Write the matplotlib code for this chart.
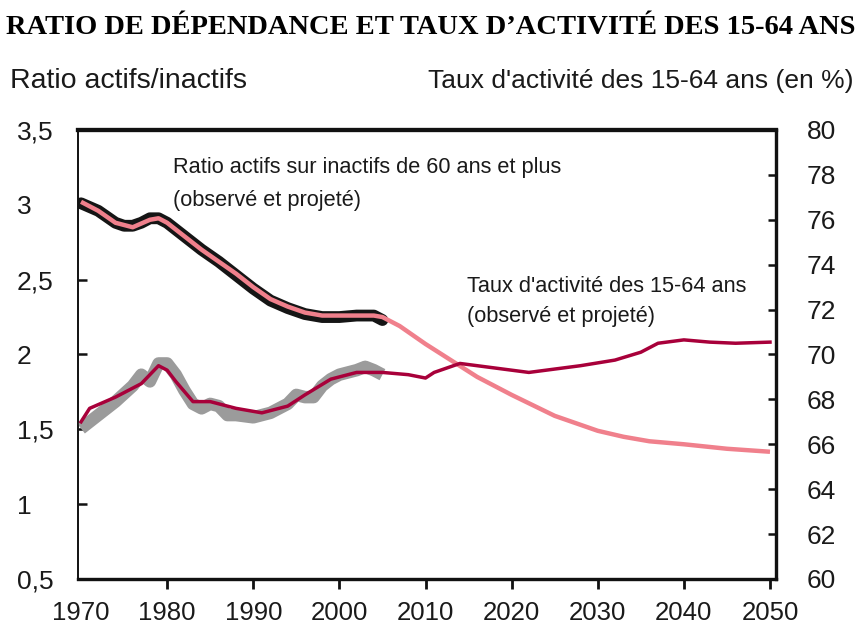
import numpy as np
import matplotlib
matplotlib.use('Agg')
import matplotlib.pyplot as plt

plt.rcParams['font.family'] = ['Liberation Sans', 'DejaVu Sans']

# ratio actifs / inactifs de 60 ans et plus (observe + projete), echelle gauche
ratio_years = [1970, 1972, 1974, 1976, 1978, 1979, 1980, 1982, 1984, 1986, 1988, 1990,
               1992, 1994, 1996, 1998, 2000, 2002, 2004, 2005, 2007, 2010, 2013, 2016,
               2020, 2025, 2030, 2033, 2036, 2040, 2045, 2050]
ratio_vals = [3.02, 2.96, 2.88, 2.85, 2.90, 2.91, 2.88, 2.79, 2.70, 2.62, 2.54, 2.45,
              2.37, 2.32, 2.28, 2.26, 2.26, 2.26, 2.26, 2.25, 2.19, 2.07, 1.96, 1.85,
              1.73, 1.59, 1.49, 1.45, 1.42, 1.40, 1.37, 1.35]

# serie observee brute (bande noire)
ratio_obs_years = [1970, 1972, 1974, 1975, 1976, 1977, 1978, 1979, 1980, 1982, 1984, 1986,
                   1988, 1990, 1992, 1994, 1996, 1998, 2000, 2002, 2004, 2005]
ratio_obs_vals = [3.01, 2.96, 2.88, 2.86, 2.86, 2.88, 2.91, 2.91, 2.88, 2.79, 2.70, 2.62,
                  2.53, 2.44, 2.36, 2.31, 2.27, 2.25, 2.25, 2.26, 2.26, 2.23]

# taux d'activite des 15-64 ans (observe lisse + projete), echelle droite
taux_years = [1970, 1971, 1974, 1977, 1979, 1980, 1981, 1983, 1985, 1988, 1991, 1994,
              1996, 1999, 2002, 2005, 2008, 2010, 2011, 2014, 2016, 2022, 2028, 2032,
              2035, 2037, 2040, 2043, 2046, 2050]
taux_vals = [67.0, 67.6, 68.1, 68.7, 69.5, 69.3, 68.8, 67.9, 67.9, 67.6, 67.4, 67.7,
             68.2, 68.9, 69.2, 69.2, 69.1, 68.95, 69.2, 69.6, 69.5, 69.2, 69.5, 69.75,
             70.1, 70.5, 70.65, 70.55, 70.5, 70.55]

# serie observee brute (bande grise)
taux_obs_years = [1970, 1972, 1974, 1976, 1977, 1978, 1979, 1980, 1981, 1982, 1983,
                  1984, 1985, 1986, 1987, 1988, 1990, 1992, 1994, 1995, 1996,
                  1997, 1998, 1999, 2000, 2001, 2002, 2003, 2004, 2005]
taux_obs_vals = [66.7, 67.3, 67.9, 68.6, 69.1, 68.8, 69.6, 69.6, 69.1, 68.4, 67.8,
                 67.6, 67.8, 67.7, 67.3, 67.3, 67.2, 67.4, 67.8, 68.2, 68.1,
                 68.1, 68.6, 68.9, 69.1, 69.2, 69.3, 69.45, 69.3, 69.1]

x_ticks = [1970, 1980, 1990, 2000, 2010, 2020, 2030, 2040, 2050]
left_ticks = [0.5, 1, 1.5, 2, 2.5, 3, 3.5]
left_labels = ['0,5', '1', '1,5', '2', '2,5', '3', '3,5']
right_ticks = [60, 62, 64, 66, 68, 70, 72, 74, 76, 78, 80]

pink = '#f0808c'
crimson = '#a8003a'
txt = '#1a1a1a'

fig = plt.figure(figsize=(8.61, 6.30), dpi=100)
ax = fig.add_axes([0.0906, 0.081, 0.8107, 0.7127])
ax2 = ax.twinx()

ax.plot(ratio_obs_years, ratio_obs_vals, color='#151515', lw=8.5, solid_capstyle='round',
        solid_joinstyle='round', zorder=2)
ax.plot(ratio_years, ratio_vals, color=pink, lw=3.2, solid_capstyle='butt', zorder=3)

ax2.plot(taux_obs_years, taux_obs_vals, color='#9b9b9b', lw=9, solid_capstyle='butt',
         solid_joinstyle='round', zorder=2)
ax2.plot(taux_years, taux_vals, color=crimson, lw=2.5, zorder=3)

ax.set_xlim(1969.65, 2050.7)
ax.set_ylim(0.5, 3.5)
ax2.set_ylim(60, 80)

ax.set_xticks(x_ticks)
ax.set_xticklabels([str(y) for y in x_ticks])
ax.xaxis.get_major_ticks()[0].tick1line.set_visible(False)
ax.set_yticks(left_ticks)
ax.set_yticklabels(left_labels)
ax2.set_yticks(right_ticks)
ax2.set_yticklabels([str(v) for v in right_ticks])

ax.tick_params(axis='x', direction='out', length=7, width=2, pad=9,
               labelsize=18.5, colors='#111111', labelcolor=txt)
ax.tick_params(axis='y', direction='in', length=6.5, width=1.8, pad=44,
               labelsize=19, colors='#111111', labelcolor=txt)
for lab in ax.get_yticklabels():
    lab.set_horizontalalignment('left')
ax2.tick_params(axis='y', direction='in', length=6, width=1.8, pad=22,
                labelsize=19, colors='#111111', labelcolor=txt)

for a in (ax, ax2):
    a.spines['left'].set_linewidth(1.2)
    a.spines['top'].set_linewidth(3)
    a.spines['bottom'].set_linewidth(2.3)
    a.spines['right'].set_linewidth(2.3)
    for s in a.spines.values():
        s.set_color('#111111')

# titres
fig.text(0.5, 1 - 27 / 630, u'RATIO DE DÉPENDANCE ET TAUX D\u2019ACTIVITÉ DES 15-64 ANS',
         ha='center', va='center', fontsize=20.5, fontweight='bold',
         family=['Liberation Serif', 'DejaVu Serif'], color='black')
fig.text(10 / 861, 1 - 88 / 630, 'Ratio actifs/inactifs', ha='left', va='baseline',
         fontsize=20.5, color=txt)
fig.text(853 / 861, 1 - 88 / 630, u"Taux d'activité des 15-64 ans (en %)", ha='right',
         va='baseline', fontsize=19, color=txt)

# annotations des courbes
fig.text(173 / 861, 1 - 173 / 630, 'Ratio actifs sur inactifs de 60 ans et plus',
         ha='left', va='baseline', fontsize=15.7, color=txt)
fig.text(173 / 861, 1 - 206 / 630, u'(observé et projeté)',
         ha='left', va='baseline', fontsize=15.7, color=txt)
fig.text(467 / 861, 1 - 292 / 630, u"Taux d'activité des 15-64 ans",
         ha='left', va='baseline', fontsize=15.7, color=txt)
fig.text(467 / 861, 1 - 322 / 630, u'(observé et projeté)',
         ha='left', va='baseline', fontsize=15.7, color=txt)

fig.savefig('out.png', dpi=100, facecolor='white')
